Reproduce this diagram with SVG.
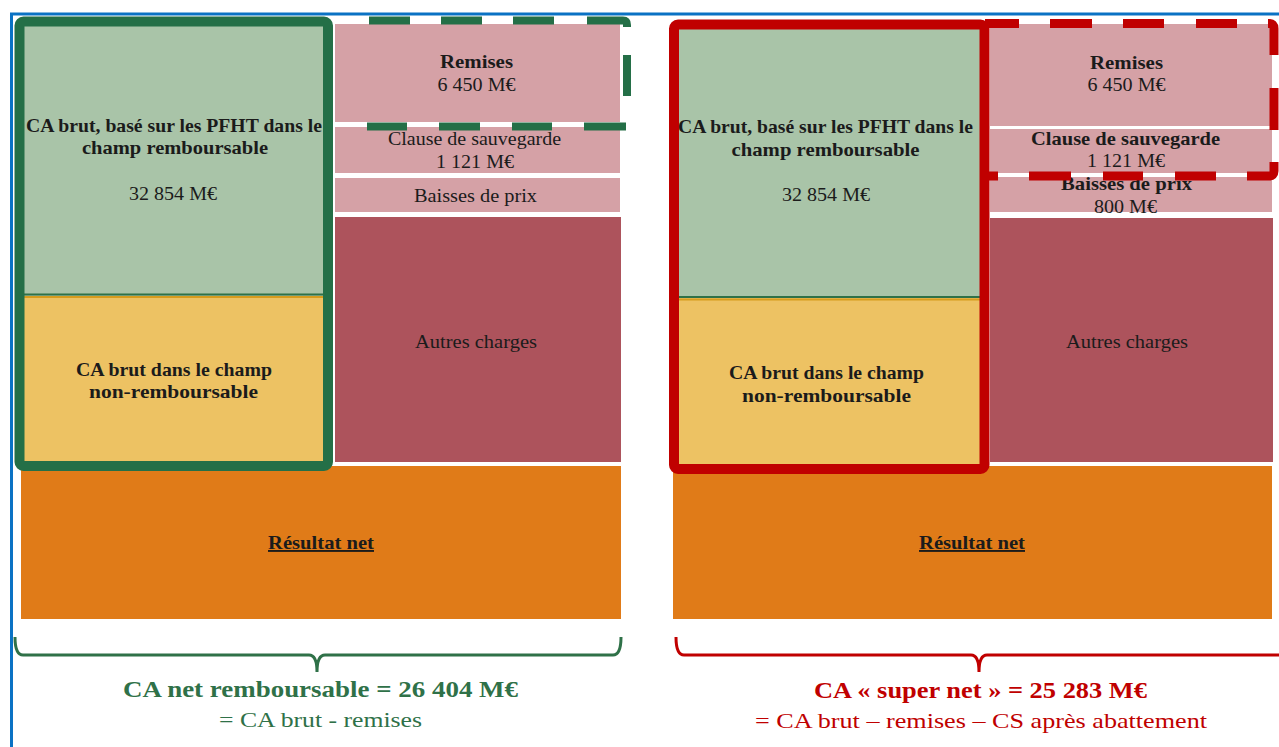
<svg xmlns="http://www.w3.org/2000/svg" width="1279" height="747" viewBox="0 0 1279 747">
<style>
.t{font-family:"Liberation Serif",serif;fill:#1b1b1b;text-anchor:middle;font-size:19px}
.b{font-weight:bold}
.u{text-decoration:underline}
.pink{fill:#D5A1A6}
.autres{fill:#AD535C}
.orange{fill:#E07B18}
.gfill{fill:#A9C4A8}
.yfill{fill:#EDC263}
.gsolid{fill:none;stroke:#246F47;stroke-width:10}
.rsolid{fill:none;stroke:#C00000;stroke-width:10}
.gdash{fill:none;stroke:#246F47;stroke-width:8}
.rdash{fill:none;stroke:#C00000;stroke-width:9}
.gbrace{fill:none;stroke:#2F7148;stroke-width:3}
.rbrace{fill:none;stroke:#C00000;stroke-width:3}
.gtxt{font-family:"Liberation Serif",serif;fill:#2F7148;text-anchor:middle}
.rtxt{font-family:"Liberation Serif",serif;fill:#C00000;text-anchor:middle}
</style>
<rect x="0" y="0" width="1279" height="747" fill="#FFFFFF"/>
<g id="frame">
<line x1="10" y1="14" x2="1279" y2="14" stroke="#0A72C4" stroke-width="3"/>
<line x1="11.5" y1="13" x2="11.5" y2="747" stroke="#0A72C4" stroke-width="3"/>
</g>

<!-- LEFT PANEL -->
<g id="left-remises"><rect class="pink" x="335" y="24" width="285" height="98"/>
<text class="t b" x="476.5" y="68" textLength="73" lengthAdjust="spacingAndGlyphs">Remises</text>
<text class="t" x="476.5" y="91" textLength="78" lengthAdjust="spacingAndGlyphs">6 450 M€</text></g>
<g id="left-clause"><rect class="pink" x="335" y="127" width="285" height="46"/>
<text class="t" x="474.5" y="145" textLength="173" lengthAdjust="spacingAndGlyphs">Clause de sauvegarde</text>
<text class="t" x="475" y="168" textLength="78" lengthAdjust="spacingAndGlyphs">1 121 M€</text></g>
<g id="left-baisses"><rect class="pink" x="335" y="178" width="285" height="34"/>
<text class="t" x="475.5" y="202" textLength="123" lengthAdjust="spacingAndGlyphs">Baisses de prix</text></g>
<g id="left-autres"><rect class="autres" x="335" y="217" width="286" height="245"/>
<text class="t" x="476" y="348" textLength="122" lengthAdjust="spacingAndGlyphs">Autres charges</text></g>
<g id="left-resultat"><rect class="orange" x="21" y="466" width="600" height="153"/>
<text class="t b u" x="321" y="549" textLength="106" lengthAdjust="spacingAndGlyphs">Résultat net</text></g>
<g id="left-ca-remb"><rect class="gfill" x="24" y="26" width="300" height="270"/>
<line x1="24" y1="294.5" x2="324" y2="294.5" stroke="#2F7148" stroke-width="2"/>
<text class="t b" x="174" y="131.5" textLength="296" lengthAdjust="spacingAndGlyphs">CA brut, basé sur les PFHT dans le</text>
<text class="t b" x="175" y="154" textLength="186" lengthAdjust="spacingAndGlyphs">champ remboursable</text>
<text class="t" x="173" y="200" textLength="88" lengthAdjust="spacingAndGlyphs">32 854 M€</text></g>
<g id="left-ca-nonremb"><rect class="yfill" x="24" y="296" width="300" height="168"/>
<line x1="24" y1="297" x2="324" y2="297" stroke="#D69C1E" stroke-width="2"/>
<text class="t b" x="174" y="376" textLength="196" lengthAdjust="spacingAndGlyphs">CA brut dans le champ</text>
<text class="t b" x="173.5" y="398" textLength="169" lengthAdjust="spacingAndGlyphs">non-remboursable</text></g>
<g id="left-outline-solid"><rect class="gsolid" x="19.5" y="21.5" width="308.5" height="444.5" rx="4"/></g>
<g id="left-outline-dashed"><path class="gdash" d="M369 20.5 H410 M441 20.5 H482 M513 20.5 H554 M587 20.5 H623 Q627 20.5 627 25 V27 M627 55 V96 M626 126.5 H584 M552 126.5 H512 M480 126.5 H439 M407 126.5 H367"/></g>

<!-- RIGHT PANEL -->
<g id="right-remises"><rect class="pink" x="990" y="24" width="282" height="102"/>
<text class="t b" x="1126.5" y="69" textLength="73" lengthAdjust="spacingAndGlyphs">Remises</text>
<text class="t" x="1126.5" y="91" textLength="78" lengthAdjust="spacingAndGlyphs">6 450 M€</text></g>
<g id="right-clause"><rect class="pink" x="990" y="129" width="282" height="44"/>
<text class="t b" x="1125.5" y="145" textLength="189" lengthAdjust="spacingAndGlyphs">Clause de sauvegarde</text>
<text class="t" x="1126" y="167" textLength="78" lengthAdjust="spacingAndGlyphs">1 121 M€</text></g>
<g id="right-baisses"><rect class="pink" x="990" y="177" width="282" height="35"/>
<text class="t b" x="1126.5" y="190" textLength="131" lengthAdjust="spacingAndGlyphs">Baisses de prix</text>
<text class="t" x="1125.5" y="213" textLength="63" lengthAdjust="spacingAndGlyphs">800 M€</text></g>
<g id="right-autres"><rect class="autres" x="990" y="218" width="283" height="244"/>
<text class="t" x="1127" y="348" textLength="122" lengthAdjust="spacingAndGlyphs">Autres charges</text></g>
<g id="right-resultat"><rect class="orange" x="673" y="466" width="599" height="153"/>
<text class="t b u" x="972" y="549" textLength="106" lengthAdjust="spacingAndGlyphs">Résultat net</text></g>
<g id="right-ca-remb"><rect class="gfill" x="678" y="29" width="302" height="270"/>
<line x1="678" y1="297" x2="980" y2="297" stroke="#2F7148" stroke-width="2"/>
<text class="t b" x="825.5" y="133" textLength="295" lengthAdjust="spacingAndGlyphs">CA brut, basé sur les PFHT dans le</text>
<text class="t b" x="825.5" y="156" textLength="188" lengthAdjust="spacingAndGlyphs">champ remboursable</text>
<text class="t" x="826" y="201" textLength="88" lengthAdjust="spacingAndGlyphs">32 854 M€</text></g>
<g id="right-ca-nonremb"><rect class="yfill" x="678" y="298" width="302" height="168"/>
<line x1="678" y1="299.5" x2="980" y2="299.5" stroke="#D69C1E" stroke-width="2"/>
<text class="t b" x="826.5" y="379" textLength="195" lengthAdjust="spacingAndGlyphs">CA brut dans le champ</text>
<text class="t b" x="826.5" y="402" textLength="169" lengthAdjust="spacingAndGlyphs">non-remboursable</text></g>
<g id="right-outline-solid"><rect class="rsolid" x="674" y="24.5" width="310.5" height="444.5" rx="4"/></g>
<g id="right-outline-dashed"><path class="rdash" d="M985 23.5 H1019 M1050 23.5 H1092 M1123 23.5 H1164 M1196 23.5 H1237 M1268 23.5 H1269 Q1274 23.5 1274 28.5 V55 M1274 88 V130 M1274 162 V171 Q1274 176 1269 176 H1247 M1216 176 H1175 M1143 176 H1103 M1071 176 H1029 M998 176 H985"/></g>

<!-- BRACES -->
<g id="connectors">
<path class="gbrace" d="M15 637 Q15 655 23 655 H309 Q317 655 317 672 Q317 655 325 655 H613 Q621 655 621 637"/>
<path class="rbrace" d="M676 637 Q676 655 684 655 H971 Q979 655 979 672 Q979 655 987 655 H1279"/>
</g>
<g id="label-left">
<text class="gtxt b" x="320.5" y="697" font-size="24" textLength="395" lengthAdjust="spacingAndGlyphs">CA net remboursable = 26 404 M€</text>
<text class="gtxt" x="320.5" y="727" font-size="22" textLength="203" lengthAdjust="spacingAndGlyphs">= CA brut - remises</text>
</g>
<g id="label-right">
<text class="rtxt b" x="980.5" y="698" font-size="24" textLength="333" lengthAdjust="spacingAndGlyphs">CA « super net » = 25 283 M€</text>
<text class="rtxt" x="981" y="728" font-size="22" textLength="452" lengthAdjust="spacingAndGlyphs">= CA brut – remises – CS après abattement</text>
</g>
</svg>
